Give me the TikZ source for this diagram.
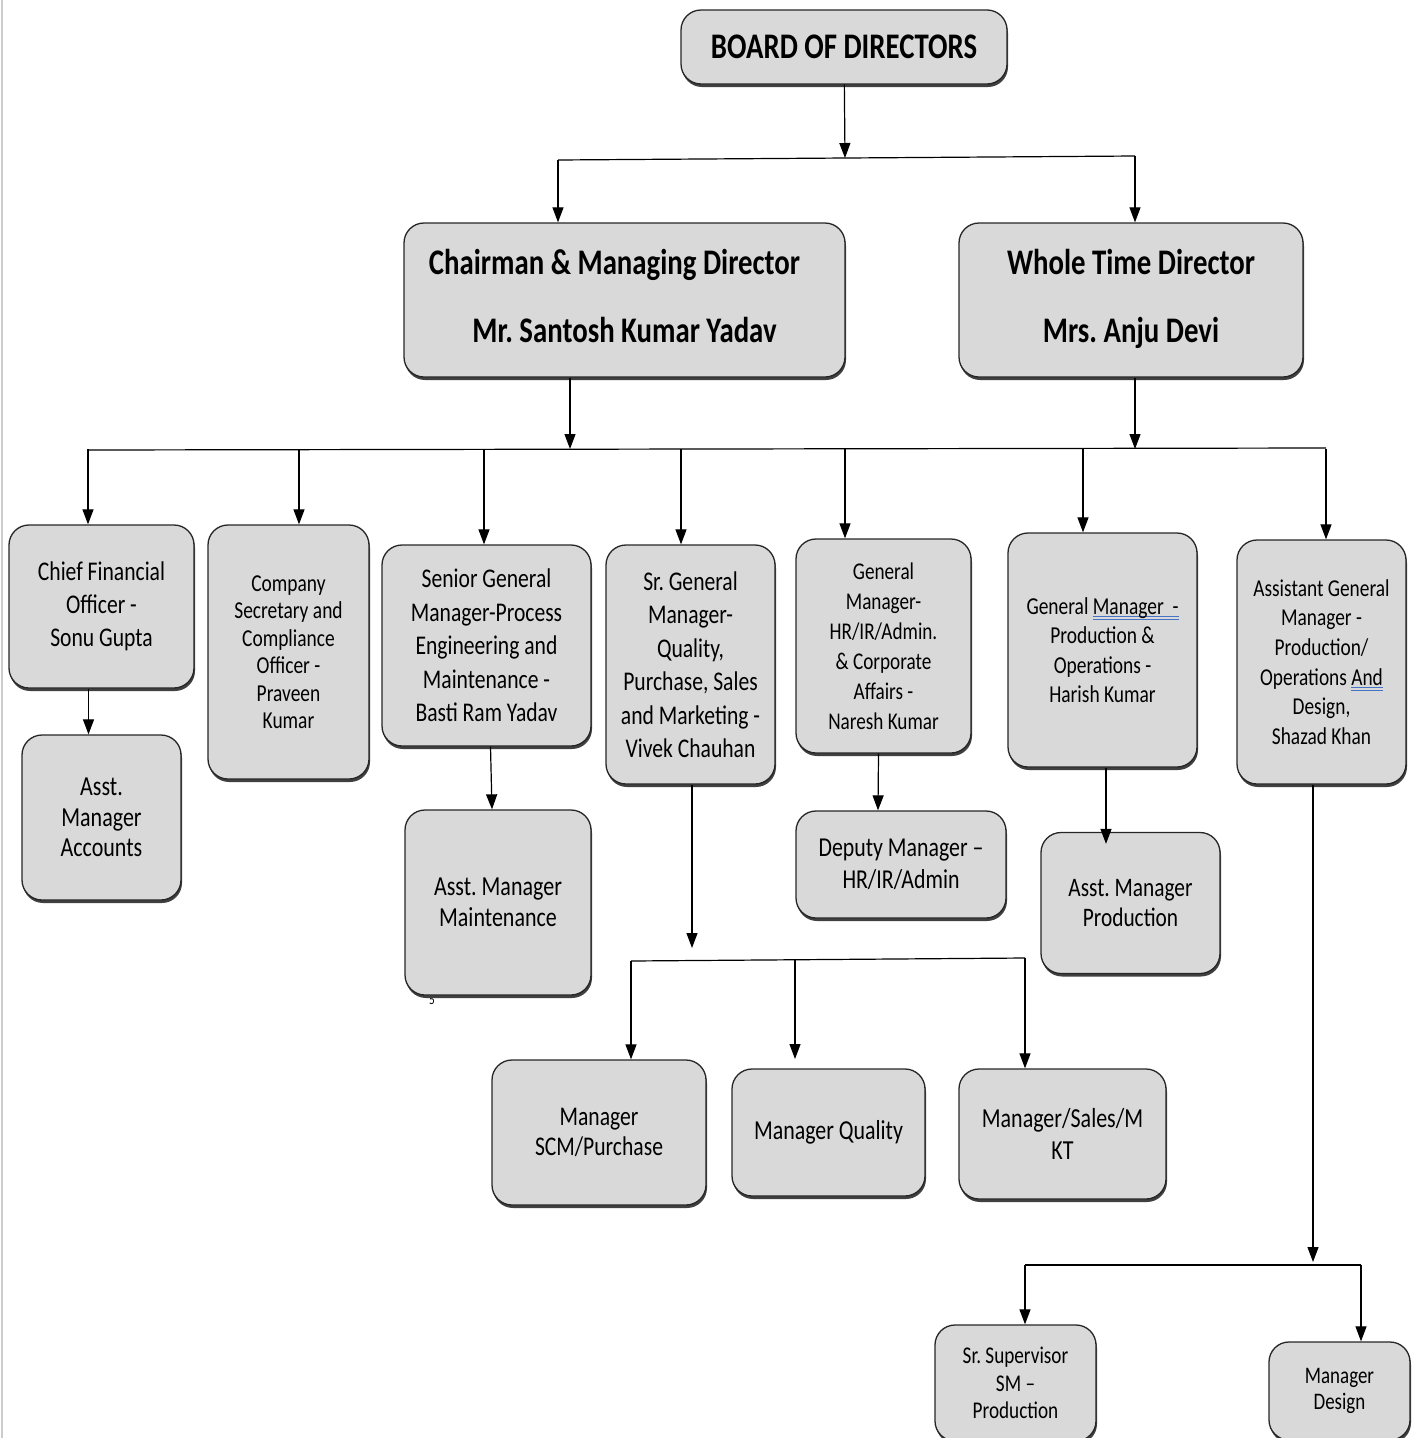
\documentclass[tikz,border=0pt]{standalone}
\usepackage{fontspec}
\setmainfont{Carlito}[FakeStretch=0.8]
\usetikzlibrary{arrows.meta,shadows}
\definecolor{boxfill}{HTML}{D9D9D9}
\definecolor{wordblue}{HTML}{4472C4}
\newcommand\fs[2]{\fontsize{#1}{#2}\selectfont}
\newsavebox\spellbox
\newcommand\spellmark[1]{\sbox\spellbox{#1}\rlap{\color{wordblue}\rule[-3pt]{\wd\spellbox}{1.2pt}}\rlap{\color{wordblue}\rule[-6pt]{\wd\spellbox}{1.2pt}}\usebox\spellbox}
\frenchspacing
\tikzset{
  box/.style={draw=black!85, line width=1.3pt, fill=boxfill, rounded corners=20pt, align=center, inner sep=0pt,
    drop shadow={shadow xshift=1pt, shadow yshift=-3pt, fill=black!75, opacity=1}},
  link/.style={-{Triangle[width=11pt,length=15pt]}, line width=1.2pt},
  bar/.style={line width=1.2pt}
}
\begin{document}
\begin{tikzpicture}[x=1pt,y=-1pt]
\clip (0,0) rectangle (1419,1438);
\draw[gray!40, line width=1.5pt] (2,0) -- (2,1438);
\node[font=\fs{14}{16}] (PG) at (432,1000) {5};

\node[box, minimum width=326pt, minimum height=74pt, font=\fs{36}{40}\bfseries] (BD) at (844,47) {BOARD OF DIRECTORS};
\node[box, minimum width=441pt, minimum height=154pt, text depth=9pt, font=\fs{36}{34}\bfseries] (CMD) at (624.5,300) {Chairman \& Managing Director\hspace*{20pt}\\[34pt]Mr. Santosh Kumar Yadav};
\node[box, minimum width=344pt, minimum height=154pt, text depth=9pt, font=\fs{36}{34}\bfseries] (WTD) at (1131,300) {Whole Time Director\\[34pt]Mrs. Anju Devi};

\node[box, minimum width=185pt, minimum height=163pt, font=\fs{27}{33}] (CFO) at (101.5,606.5) {Chief Financial\\Officer -\\Sonu Gupta};
\node[box, minimum width=161pt, minimum height=254pt, font=\fs{24.3}{27.5}] (CS) at (288.5,652) {Company\\Secretary and\\Compliance\\Officer -\\Praveen\\Kumar};
\node[box, minimum width=209pt, minimum height=201pt, font=\fs{27}{33.5}] (SGM) at (486.5,645.5) {Senior General\\Manager-Process\\Engineering and\\Maintenance -\\Basti Ram Yadav};
\node[box, minimum width=169pt, minimum height=239pt, font=\fs{27}{33.5}] (SRGM) at (690.5,664.5) {Sr. General\\Manager-\\Quality,\\Purchase, Sales\\and Marketing -\\Vivek Chauhan};
\node[box, minimum width=175pt, minimum height=214pt, font=\fs{24}{30}] (GMHR) at (883.5,646) {General\\Manager-\\HR/IR/Admin.\\\& Corporate\\Affairs -\\Naresh Kumar};
\node[box, minimum width=189pt, minimum height=234pt, font=\fs{24.3}{29.5}] (GMP) at (1102.5,650) {General \spellmark{Manager~~-}\\Production \&\\Operations -\\Harish Kumar};
\node[box, minimum width=169pt, minimum height=244pt, font=\fs{24.2}{29.7}] (AGM) at (1321.5,662) {Assistant General\\Manager -\\Production/\\Operations \spellmark{And}\\Design,\\Shazad Khan};

\node[box, minimum width=159pt, minimum height=165pt, font=\fs{27.5}{30.5}] (AAC) at (101.5,817.5) {Asst.\\Manager\\Accounts};
\node[box, minimum width=186pt, minimum height=185pt, font=\fs{27.5}{31}] (AMM) at (498,902.5) {Asst. Manager\\Maintenance};
\node[box, minimum width=210pt, minimum height=107pt, font=\fs{27.3}{32}] (DMH) at (901,864.5) {Deputy Manager –\\HR/IR/Admin};
\node[box, minimum width=179pt, minimum height=141pt, font=\fs{26.7}{30}] (AMP) at (1130.5,903) {Asst. Manager\\Production};
\node[box, minimum width=214pt, minimum height=145pt, font=\fs{27}{30}] (MSC) at (599,1132.5) {Manager\\SCM/Purchase};
\node[box, minimum width=193pt, minimum height=127pt, font=\fs{27.4}{30}] (MQ) at (828.5,1132.5) {Manager Quality};
\node[box, minimum width=207pt, minimum height=130pt, font=\fs{27.5}{32}] (MSM) at (1062.5,1134) {Manager/Sales/M\\KT};
\node[box, minimum width=161pt, minimum height=116pt, font=\fs{24}{27.5}] (SSP) at (1015.5,1383) {Sr. Supervisor\\SM –\\Production};
\node[box, minimum width=141pt, minimum height=98pt, font=\fs{23.7}{26}] (MDS) at (1339.5,1391) {Manager\\Design};

\coordinate (J1) at (845,158);
\coordinate (L1) at (558,160);
\coordinate (R1) at (1135,156);
\draw[link] (BD) -- (J1);
\draw[bar] (L1) -- (R1);
\draw[link] (L1) -- (L1 |- CMD.north);
\draw[link] (R1) -- (R1 |- WTD.north);

\coordinate (J2) at (570,449);
\coordinate (J3) at (1135,449);
\coordinate (BL) at (88,450);
\coordinate (BR) at (1326,448);
\draw[link] (CMD.south -| J2) -- (J2);
\draw[link] (WTD.south -| J3) -- (J3);
\draw[bar] (BL) -- (BR);
\foreach \n/\x in {CFO/88, CS/299, SGM/484, SRGM/681, GMHR/845, GMP/1083, AGM/1326}{
  \coordinate (D) at (\x,449);
  \draw[link] (D) -- (D |- \n.north);
}

\draw[link] ([xshift=-13pt]CFO.south) -- ([xshift=-13pt]AAC.north);
\draw[link] ([xshift=4pt]SGM.south) -- ([xshift=-6pt]AMM.north);
\draw[link] ([xshift=-5pt]GMHR.south) -- ([xshift=-23pt]DMH.north);
\draw[link] ([xshift=3.5pt]GMP.south) -- ([xshift=-24.5pt,yshift=-12pt]AMP.north);

\coordinate (J4) at (692,948);
\coordinate (L4) at (631,961);
\coordinate (M4) at (795,959);
\coordinate (M4e) at (795,1059);
\coordinate (R4) at (1025,958);
\draw[link] (SRGM.south -| J4) -- (J4);
\draw[bar] (L4) -- (R4);
\draw[link] (L4) -- (L4 |- MSC.north);
\draw[link] (M4) -- (M4e);
\draw[link] (R4) -- (R4 |- MSM.north);

\coordinate (J5) at (1313,1262);
\coordinate (L5) at (1025,1265);
\coordinate (R5) at (1361,1265);
\draw[link] (AGM.south -| J5) -- (J5);
\draw[bar] (L5) -- (R5);
\draw[link] (L5) -- (L5 |- SSP.north);
\draw[link] (R5) -- (R5 |- MDS.north);
\end{tikzpicture}
\end{document}
